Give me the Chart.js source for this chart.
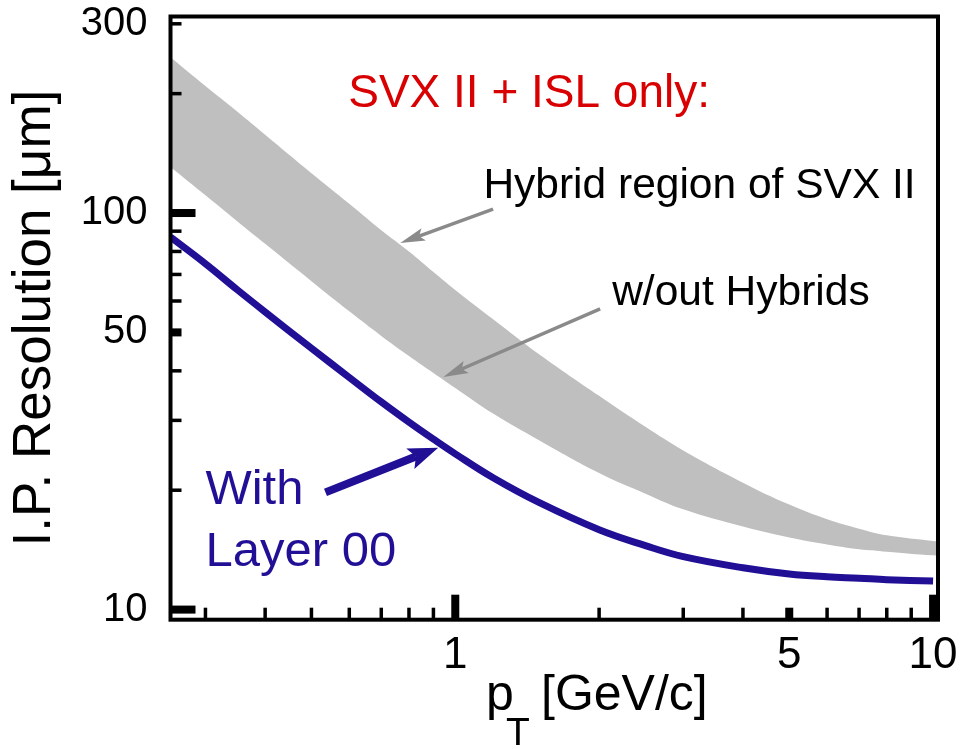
<!DOCTYPE html>
<html>
<head>
<meta charset="utf-8">
<title>I.P. Resolution vs pT</title>
<script src="https://cdn.jsdelivr.net/npm/chart.js@4/dist/chart.umd.min.js"></script>
<style>
  html, body { margin: 0; padding: 0; background: #fff; }
  canvas { display: block; }
</style>
</head>
<body>
<canvas id="ipChart" width="963" height="749"></canvas>
<script>
// pT [GeV/c] sample points and resolutions [um]
const curvePt = [0.2535, 0.3, 0.35, 0.4, 0.5, 0.6, 0.7, 0.8, 0.9, 1, 1.2, 1.5, 2, 2.5, 3, 4, 5, 6, 7, 8, 10];
const withLayer00 = [87, 74.5, 64, 56.3, 45.6, 38.5, 33.4, 29.7, 26.9, 24.7, 21.5, 18.6, 15.9, 14.5, 13.6, 12.75, 12.3, 12.1, 12.0, 11.9, 11.8];

const bandPt = [0.2535, 0.3, 0.35, 0.4, 0.5, 0.6, 0.7, 0.8, 0.9, 1, 1.2, 1.5, 2, 2.5, 3, 4, 5, 6, 7, 8, 10, 10.3];
const hybridUpper = [247, 209, 180, 157.5, 126, 105.5, 90.5, 80, 71, 64, 54, 44, 34.6, 28.9, 25.2, 20.9, 18.4, 16.9, 16.0, 15.4, 14.9, 14.85];
const noHybridLower = [130.6, 110.8, 95.2, 83.6, 67.3, 56.5, 49, 43.6, 39.5, 36.2, 31.2, 26.7, 22.1, 19.6, 17.9, 16.2, 15.2, 14.6, 14.2, 14.0, 13.7, 13.7];

// axis ticks
const xTickLabels = [1, 5, 10];
const yTickLabels = [10, 50, 100, 300];
const xLongTicks = [1, 10];
const xMidTicks = [5];
const xMinorTicks = [0.3, 0.4, 0.5, 0.6, 0.7, 0.8, 0.9, 2, 3, 4, 6, 7, 8, 9];
const yLongTicks = [10, 100];
const yMidTicks = [50];
const yMinorTicks = [20, 30, 40, 60, 70, 80, 90, 200, 300];

const FONT = '"Liberation Sans", Arial, Helvetica, sans-serif';
const BLUE = '#210f96';
const RED = '#d80000';
const GREY_BAND = '#bfbfbf';
const GREY_ARROW = '#8a8a8a';

// annotation anchors in data coordinates [pT, resolution]
const notes = [
    { text: 'SVX II + ISL only:', at: [0.597, 185], color: RED, size: 46 },
    { text: 'Hybrid region of SVX II', at: [1.145, 109], color: '#000', size: 42.5 },
    { text: 'w/out Hybrids', at: [2.13, 58.6], color: '#000', size: 42.5 },
    { text: 'With', at: [0.300, 18.5], color: BLUE, size: 49 },
    { text: 'Layer 00', at: [0.300, 12.9], color: BLUE, size: 49 }
];

const arrows = [
    { from: [1.20, 102.3], to: [0.767, 84.0], color: GREY_ARROW, width: 3.5, head: 25, half: 6.5 },
    { from: [2.01, 57.3], to: [0.944, 38.6], color: GREY_ARROW, width: 3.5, head: 25, half: 6.5 },
    { from: [0.535, 19.75], to: [0.921, 25.6], color: BLUE, width: 8, head: 30, half: 11 }
];

function toPoints(xs, ys) {
    return xs.map((x, i) => ({ x: x, y: ys[i] }));
}

function drawArrow(ctx, x1, y1, x2, y2, a) {
    const ang = Math.atan2(y2 - y1, x2 - x1);
    const cos = Math.cos(ang), sin = Math.sin(ang);
    const bx = x2 - cos * a.head, by = y2 - sin * a.head;
    const nx = x2 - cos * a.head * 0.8, ny = y2 - sin * a.head * 0.8;
    ctx.strokeStyle = a.color;
    ctx.fillStyle = a.color;
    ctx.lineWidth = a.width;
    ctx.lineCap = 'butt';
    ctx.beginPath();
    ctx.moveTo(x1, y1);
    ctx.lineTo(nx, ny);
    ctx.stroke();
    ctx.beginPath();
    ctx.moveTo(x2, y2);
    ctx.lineTo(bx - sin * a.half, by + cos * a.half);
    ctx.lineTo(nx, ny);
    ctx.lineTo(bx + sin * a.half, by - cos * a.half);
    ctx.closePath();
    ctx.fill();
}

// frame, inward ticks, x title, notes and arrows
const decorations = {
    id: 'decorations',
    afterDraw(chart) {
        const { ctx, chartArea: area, scales: { x, y } } = chart;
        ctx.save();

        ctx.fillStyle = '#000';
        const yTick = (v, len, w) => {
            const py = y.getPixelForValue(v);
            ctx.fillRect(area.left, py - w / 2, len, w);
        };
        const xTick = (v, len, w) => {
            const px = x.getPixelForValue(v);
            ctx.fillRect(px - w / 2, area.bottom - len, w, len);
        };
        yLongTicks.forEach(v => yTick(v, 25, 8));
        yMidTicks.forEach(v => yTick(v, 11, 8));
        yMinorTicks.forEach(v => yTick(v, 11, 3.5));
        xLongTicks.forEach(v => xTick(v, 25, 8));
        xMidTicks.forEach(v => xTick(v, 12, 8));
        xMinorTicks.forEach(v => xTick(v, 12, 3.5));

        ctx.strokeStyle = '#000';
        ctx.lineWidth = 4;
        ctx.strokeRect(area.left, area.top, area.right - area.left, area.bottom - area.top);

        // x axis title with subscript
        const tx = area.left + 315.5;
        const ty = area.bottom + 90.5;
        ctx.fillStyle = '#000';
        ctx.textBaseline = 'alphabetic';
        ctx.textAlign = 'left';
        ctx.font = '50px ' + FONT;
        ctx.fillText('p', tx, ty);
        ctx.font = '39px ' + FONT;
        ctx.fillText('T', tx + 20, ty + 35);
        ctx.font = '50px ' + FONT;
        ctx.fillText('[GeV/c]', tx + 55, ty);

        notes.forEach(n => {
            ctx.font = n.size + 'px ' + FONT;
            ctx.fillStyle = n.color;
            ctx.fillText(n.text, x.getPixelForValue(n.at[0]), y.getPixelForValue(n.at[1]));
        });

        arrows.forEach(a => {
            drawArrow(ctx,
                x.getPixelForValue(a.from[0]), y.getPixelForValue(a.from[1]),
                x.getPixelForValue(a.to[0]), y.getPixelForValue(a.to[1]), a);
        });

        ctx.restore();
    }
};

const ctx = document.getElementById('ipChart').getContext('2d');
const chart = new Chart(ctx, {
    type: 'line',
    data: {
        datasets: [{
            label: 'With Layer 00',
            data: toPoints(curvePt, withLayer00),
            borderColor: BLUE,
            borderWidth: 7,
            borderCapStyle: 'butt',
            pointRadius: 0,
            fill: false,
            tension: 0.4,
            order: 0
        }, {
            label: 'Hybrid region of SVX II',
            data: toPoints(bandPt, hybridUpper),
            borderColor: 'rgba(0,0,0,0)',
            borderWidth: 0,
            backgroundColor: GREY_BAND,
            pointRadius: 0,
            fill: '+1',
            tension: 0.4,
            order: 1
        }, {
            label: 'w/out Hybrids',
            data: toPoints(bandPt, noHybridLower),
            borderColor: 'rgba(0,0,0,0)',
            borderWidth: 0,
            pointRadius: 0,
            fill: false,
            tension: 0.4,
            order: 2
        }]
    },
    options: {
        responsive: false,
        animation: false,
        layout: { padding: { top: 16.5, right: 25, bottom: 0, left: 0 } },
        plugins: {
            legend: { display: false },
            tooltip: { enabled: false }
        },
        scales: {
            x: {
                type: 'logarithmic',
                min: 0.2535,
                max: 10.24,
                grid: { display: false, drawTicks: false },
                border: { display: false },
                afterBuildTicks: s => { s.ticks = xTickLabels.map(v => ({ value: v })); },
                afterFit: s => {
                    s.height = 129.3;
                    s.paddingLeft = 0;
                    s.paddingRight = 0;
                },
                ticks: {
                    padding: 10,
                    color: '#000',
                    maxRotation: 0,
                    autoSkip: false,
                    font: { family: FONT, size: 44, lineHeight: 1.2 },
                    callback: v => String(v)
                }
            },
            y: {
                type: 'logarithmic',
                min: 9.43,
                max: 313,
                grid: { display: false, drawTicks: false },
                border: { display: false },
                afterBuildTicks: s => { s.ticks = yTickLabels.map(v => ({ value: v })); },
                afterFit: s => {
                    s.width = 170.5;
                    s.paddingTop = 0;
                    s.paddingBottom = 0;
                },
                ticks: {
                    padding: 23,
                    color: '#000',
                    autoSkip: false,
                    font: { family: FONT, size: 40, lineHeight: 1.2 },
                    callback: v => String(v)
                },
                title: {
                    display: true,
                    text: 'I.P. Resolution [μm]',
                    color: '#000',
                    padding: { top: 4, bottom: 0 },
                    font: { family: FONT, size: 53, lineHeight: 1.2 }
                }
            }
        }
    },
    plugins: [decorations]
});
</script>
</body>
</html>
